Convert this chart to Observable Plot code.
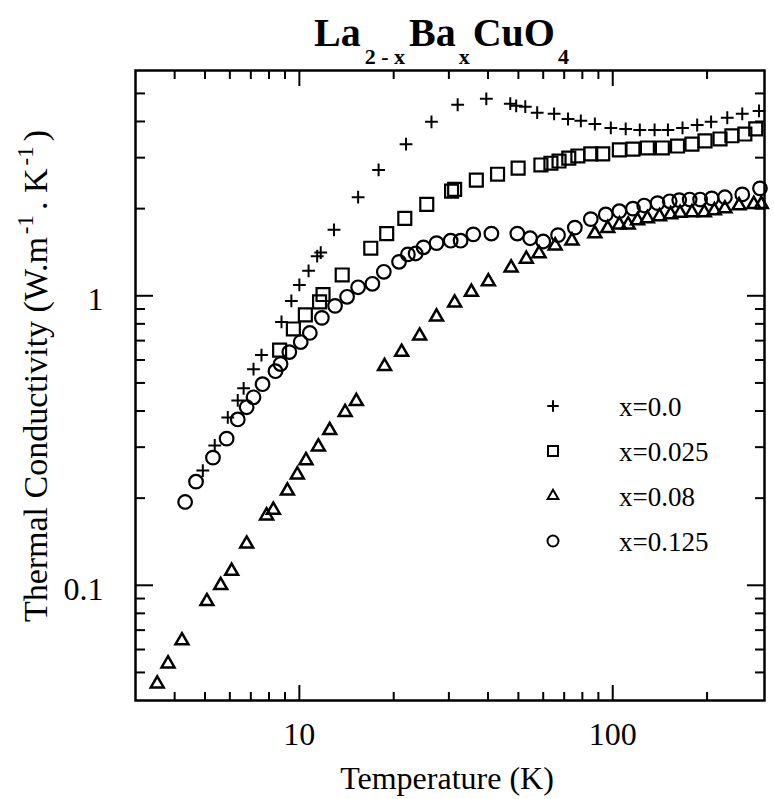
<!DOCTYPE html>
<html><head><meta charset="utf-8">
<script src="https://cdn.jsdelivr.net/npm/d3@7"></script>
<script src="https://cdn.jsdelivr.net/npm/@observablehq/plot@0.6"></script>
<style>html,body{margin:0;padding:0;background:#fff;} #chart{width:774px;height:799px;}</style>
</head><body><div id="chart"></div>
<script>
// x = 0.0  (plus)
const tempX000 = [4.92, 5.37, 5.91, 6.36, 6.64, 7.14, 7.57, 8.77, 9.43, 10.0, 10.7, 11.4, 11.7, 12.9, 15.4, 17.9, 21.9, 26.4, 32.0, 39.5, 47.1, 49.2, 52.6, 57.4, 65.0, 72.0, 79.1, 87.7, 98.6, 110, 122, 136, 150, 167, 186, 206, 232, 259, 293];
const kapX000 = [0.249, 0.304, 0.380, 0.435, 0.479, 0.558, 0.624, 0.812, 0.96, 1.09, 1.22, 1.37, 1.41, 1.69, 2.19, 2.72, 3.34, 3.99, 4.57, 4.79, 4.61, 4.53, 4.50, 4.29, 4.25, 4.08, 4.02, 3.92, 3.80, 3.77, 3.74, 3.74, 3.74, 3.80, 3.89, 3.99, 4.12, 4.25, 4.35];
// x = 0.025 (square)
const tempX025 = [8.65, 9.57, 10.45, 11.6, 11.9, 13.7, 16.9, 19.0, 21.7, 25.5, 30.6, 31.3, 36.7, 42.9, 49.9, 59.0, 63.5, 67.4, 72.4, 77.4, 85.1, 92.9, 105, 116, 129, 144, 161, 179, 197, 220, 240, 264, 286];
const kapX025 = [0.649, 0.768, 0.859, 0.953, 1.01, 1.18, 1.46, 1.64, 1.85, 2.07, 2.30, 2.33, 2.51, 2.63, 2.76, 2.83, 2.87, 2.92, 2.99, 3.04, 3.09, 3.09, 3.19, 3.21, 3.24, 3.24, 3.29, 3.34, 3.43, 3.48, 3.57, 3.62, 3.77];
// x = 0.08 (triangle)
const tempX080 = [3.52, 3.81, 4.22, 5.07, 5.61, 6.08, 6.79, 7.86, 8.26, 9.16, 9.85, 10.5, 11.5, 12.5, 14.0, 15.2, 18.7, 21.2, 24.2, 27.4, 31.3, 35.4, 40.1, 47.4, 53.0, 58.2, 65.5, 74.1, 87.7, 96.4, 105, 112, 120, 129, 141, 153, 164, 179, 196, 211, 228, 253, 282, 298];
const kapX080 = [0.0457, 0.0536, 0.0644, 0.0880, 0.100, 0.112, 0.139, 0.174, 0.182, 0.212, 0.241, 0.270, 0.301, 0.343, 0.396, 0.432, 0.571, 0.639, 0.727, 0.846, 0.946, 1.03, 1.12, 1.25, 1.34, 1.40, 1.49, 1.55, 1.64, 1.71, 1.76, 1.76, 1.82, 1.85, 1.88, 1.91, 1.93, 1.94, 1.94, 1.97, 2.00, 2.05, 2.07, 2.07];
// x = 0.125 (circle)
const tempX125 = [4.32, 4.68, 5.30, 5.86, 6.36, 6.79, 7.14, 7.63, 8.39, 8.71, 9.29, 10.1, 10.8, 11.8, 13.0, 14.2, 15.4, 17.1, 18.6, 20.8, 22.2, 23.5, 24.9, 27.4, 30.4, 32.7, 35.9, 41.0, 49.6, 54.5, 60.0, 66.9, 75.7, 85.1, 95.0, 105, 116, 126, 139, 152, 163, 176, 190, 207, 228, 259, 295];
const kapX125 = [0.194, 0.228, 0.276, 0.321, 0.374, 0.412, 0.446, 0.495, 0.549, 0.581, 0.639, 0.692, 0.744, 0.839, 0.923, 0.992, 1.07, 1.10, 1.21, 1.31, 1.39, 1.40, 1.47, 1.52, 1.55, 1.55, 1.63, 1.64, 1.64, 1.58, 1.54, 1.62, 1.72, 1.84, 1.91, 1.96, 2.00, 2.05, 2.09, 2.12, 2.14, 2.15, 2.15, 2.17, 2.19, 2.24, 2.35];

const seriesLabels = ["x=0.0", "x=0.025", "x=0.08", "x=0.125"];
const xMajorTicks = [10, 100];
const xMinorTicks = [4, 5, 6, 7, 8, 9, 20, 30, 40, 50, 60, 70, 80, 90, 200];
const yMajorTicks = [0.1, 1];
const yMinorTicks = [0.05, 0.06, 0.07, 0.08, 0.09, 0.2, 0.3, 0.4, 0.5, 0.6, 0.7, 0.8, 0.9, 2, 3, 4, 5];
const xTickLabels = ["10", "100"];
const yTickLabels = ["0.1", "1"];

const rows = (T, K) => T.map((t, i) => ({t, k: K[i]}));
const FONT = "'Liberation Serif', 'Times New Roman', serif";

const tickAxisX = (anchor, ticks, size) => Plot.axisX({anchor, ticks, tickSize: -size, tickFormat: () => "", label: null, strokeWidth: 2});
const tickAxisY = (anchor, ticks, size) => Plot.axisY({anchor, ticks, tickSize: -size, tickFormat: () => "", label: null, strokeWidth: 2});

const svg = Plot.plot({
  width: 774, height: 799,
  marginLeft: 135, marginRight: 10, marginTop: 70, marginBottom: 99,
  x: {type: "log", domain: [3, 305]},
  y: {type: "log", domain: [0.04, 6]},
  style: {fontFamily: FONT, background: "white", color: "black"},
  marks: [
    tickAxisX("bottom", xMajorTicks, 15),
    tickAxisX("bottom", xMinorTicks, 8),
    tickAxisX("top", xMajorTicks, 15),
    tickAxisX("top", xMinorTicks, 8),
    tickAxisY("left", yMajorTicks, 18),
    tickAxisY("left", yMinorTicks, 10),
    tickAxisY("right", yMajorTicks, 18),
    tickAxisY("right", yMinorTicks, 10),
    Plot.axisX({anchor: "bottom", ticks: xMajorTicks, tickSize: 0, tickPadding: 22, fontSize: 32, label: null,
      tickFormat: d => xTickLabels[xMajorTicks.indexOf(d)]}),
    Plot.axisY({anchor: "left", ticks: yMajorTicks, tickSize: 0, tickPadding: 32, fontSize: 32, label: null, dy: 4,
      tickFormat: d => yTickLabels[yMajorTicks.indexOf(d)]}),
    Plot.frame({stroke: "black", strokeWidth: 2.5}),
    Plot.dot(rows(tempX000, kapX000), {x: "t", y: "k", symbol: "plus", r: 4.2, stroke: "black", strokeWidth: 2}),
    Plot.dot(rows(tempX025, kapX025), {x: "t", y: "k", symbol: "square", r: 7.3, stroke: "black", fill: "none", strokeWidth: 2.2}),
    Plot.dot(rows(tempX080, kapX080), {x: "t", y: "k", symbol: "triangle", r: 4.8, stroke: "black", fill: "none", strokeWidth: 2.5}),
    Plot.dot(rows(tempX125, kapX125), {x: "t", y: "k", symbol: "circle", r: 6.8, stroke: "black", fill: "none", strokeWidth: 2.2})
  ]
});
document.getElementById("chart").appendChild(svg);

const s = d3.select(svg);
// Title with low subscripts, flowing left to right
const title = s.append("text").attr("x", 314).attr("y", 46).attr("font-family", FONT).attr("font-weight", "bold")
  .attr("fill", "black").attr("text-anchor", "start").attr("font-size", 40);
const titleParts = [
  {t: "La", dx: 0, dy: 0, f: 40},
  {t: "2 - x", dx: 4, dy: 18, f: 22},
  {t: "Ba", dx: 4, dy: -18, f: 40},
  {t: "x", dx: 3, dy: 18, f: 22},
  {t: "CuO", dx: 3, dy: -18, f: 40},
  {t: "4", dx: 3, dy: 18, f: 22}
];
titleParts.forEach(p => title.append("tspan").attr("dx", p.dx).attr("dy", p.dy).attr("font-size", p.f).text(p.t));

// Axis titles
s.append("text").attr("x", 447).attr("y", 789).attr("text-anchor", "middle")
  .attr("font-family", FONT).attr("font-size", 32).attr("fill", "black").text("Temperature (K)");
const yl = s.append("text").attr("transform", "translate(47,376) rotate(-90)").attr("text-anchor", "middle")
  .attr("font-family", FONT).attr("font-size", 34).attr("fill", "black");
yl.append("tspan").text("Thermal Conductivity (W.m");
yl.append("tspan").attr("dx", 3).attr("dy", -14).attr("font-size", 23).text("-1");
yl.append("tspan").attr("dx", 5).attr("dy", 14).text(". K");
yl.append("tspan").attr("dx", 3).attr("dy", -14).attr("font-size", 23).text("-1");
yl.append("tspan").attr("dx", 5).attr("dy", 14).text(")");

// Legend
const legendSymbols = [d3.symbolPlus, d3.symbolSquare, d3.symbolTriangle, d3.symbolCircle];
const legendSizes = [45, 100, 50, 95];
seriesLabels.forEach((lab, i) => {
  const cy = 406 + i * 45;
  s.append("path").attr("transform", `translate(553,${cy})`)
    .attr("d", d3.symbol(legendSymbols[i], legendSizes[i])())
    .attr("fill", "none").attr("stroke", "black").attr("stroke-width", 2);
  s.append("text").attr("x", 619).attr("y", cy + 10).attr("text-anchor", "start")
    .attr("font-family", FONT).attr("font-size", 27).attr("fill", "black").text(lab);
});
</script></body></html>
